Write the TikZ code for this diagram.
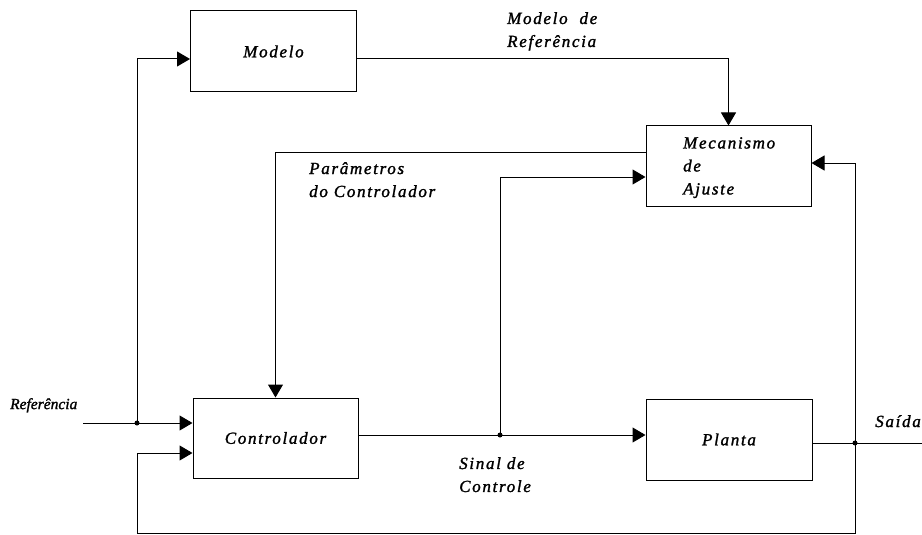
\documentclass[tikz,border=0pt]{standalone}
\usepackage{fontspec}
\setmainfont{Liberation Serif}
\newfontfamily\rotfont[LetterSpace=10,FakeBold=1.5]{Liberation Serif}
\newfontfamily\reffont[FakeBold=1.5]{Liberation Serif}
\usetikzlibrary{arrows.meta}

\tikzset{
  bloco/.style={draw, line width=1pt, inner sep=0pt,
    minimum width=166pt, minimum height=81pt,
    font=\rotfont\itshape\fontsize{17}{23}\selectfont},
  rotulo/.style={inner sep=0pt, anchor=north west, align=left,
    font=\rotfont\itshape\fontsize{17}{23}\selectfont},
  seta/.style={line width=1pt, -{Triangle[length=13pt,width=15pt]}},
  linha/.style={line width=1pt},
  ponto/.style={fill, circle, inner sep=0pt, minimum size=5pt}
}

\begin{document}
\begin{tikzpicture}[x=1pt,y=-1pt]
\useasboundingbox (0,0) rectangle (922,535);

% blocos
\node[bloco] (modelo) at (273.5,51.5) {Modelo};
\node[bloco, minimum width=165pt, minimum height=80pt] (mecan) at (728.5,166) {};
\node[bloco, minimum width=165pt, minimum height=80pt] (ctrl) at (275.5,438) {Controlador};
\node[bloco] (planta) at (729,439.5) {Planta};

% pontos de ramificacao
\coordinate (refin) at (83,423);
\coordinate (jref) at (137,423);
\coordinate (jsig) at (500,435);
\coordinate (jout) at (855,443);
\coordinate (saida) at (922,443);
\coordinate (fb) at (137,533);

% rotulos
\node[rotulo] (lmec) at (683,137) {Mecanismo\\de\\Ajuste};
\node[rotulo, font=\reffont\itshape\fontsize{15.5}{23}\selectfont] (lref) at (10,398) {Referência};
\node[rotulo] (lmodref) at (507,12) {Modelo\ \ de\\Referência};
\node[rotulo] (lpar) at (309,162) {Parâmetros\\do Controlador};
\node[rotulo] (lsinal) at (459,457) {Sinal de\\Controle};
\node[rotulo, anchor=north east] (lsaida) at (921,415) {Saída};

% ligacoes
\draw[seta] (refin) -- (ctrl.west |- refin);
\draw[seta] (jref) |- ([yshift=-7.5pt]modelo.west);
\draw[seta] ([yshift=-7.5pt]modelo.east) -| (mecan.north);
\draw[seta] ([yshift=14pt]mecan.west) -| (ctrl.north);
\draw[seta] (ctrl.east |- jsig) -- (planta.west |- jsig);
\draw[seta] (jsig) |- ([yshift=-11pt]mecan.west);
\draw[linha] (planta.east |- jout) -- (saida);
\draw[seta] (jout) |- ([yshift=3pt]mecan.east);
\draw[seta] (jout) |- (fb) |- ([yshift=-15pt]ctrl.west);

\node[ponto] at (jref) {};
\node[ponto] at (jsig) {};
\node[ponto] at (jout) {};
\end{tikzpicture}
\end{document}
